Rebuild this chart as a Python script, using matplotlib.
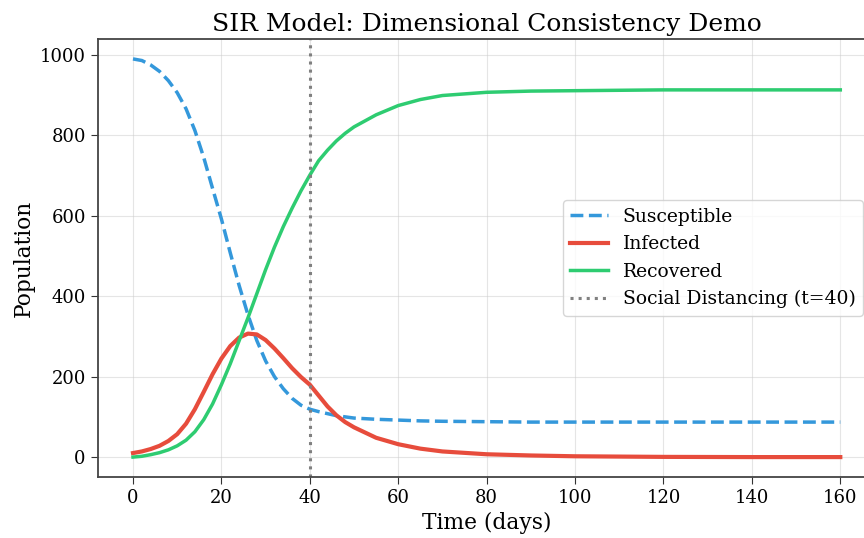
import matplotlib
matplotlib.use('Agg')
from matplotlib import pyplot as plt

# 时间（天）
days = [0, 2, 4, 6, 8, 10, 12, 14, 16, 18, 20, 22, 24, 26, 28, 30, 32, 34, 36, 38, 40,
        42, 44, 46, 48, 50, 55, 60, 65, 70, 80, 90, 100, 120, 140, 160]

# 易感者
susceptible = [990, 986, 975, 959, 936, 906, 866, 812, 745, 668, 592, 508, 427, 354, 290, 239, 200, 170, 146, 129, 119,
               113, 108, 103, 100, 97, 94, 92, 90, 89, 88, 87, 87, 87, 87, 87]

# 感染者
infected = [10, 14, 20, 28, 40, 57, 83, 119, 162, 206, 245, 276, 297, 307, 305, 291, 270, 246, 221, 199, 180,
            153, 126, 104, 87, 74, 48, 32, 21, 14, 7, 4, 2, 0.5, 0, 0]

# 康复者
recovered = [0, 2, 6, 11, 18, 28, 42, 63, 93, 132, 180, 232, 289, 346, 406, 466, 522, 573, 619, 662, 701,
             737, 763, 786, 805, 821, 851, 874, 889, 899, 907, 910, 911, 913, 913, 913]

t_intervention = 40

plt.rcParams['font.family'] = ['DejaVu Serif']

fig = plt.figure(figsize=(8.64, 5.38), dpi=100)
ax = fig.add_axes([0.113, 0.1134, 0.9005, 0.8141])

ax.plot(days, susceptible, color='#3498db', linestyle='--', linewidth=2.5, label='Susceptible')
ax.plot(days, infected, color='#e74c3c', linewidth=3, label='Infected')
ax.plot(days, recovered, color='#2ecc71', linewidth=2.5, label='Recovered')
ax.axvline(t_intervention, color='gray', linestyle=':', linewidth=2.2,
           label='Social Distancing (t=%d)' % t_intervention)

ax.set_title('SIR Model: Dimensional Consistency Demo', fontsize=18)
ax.set_xlabel('Time (days)', fontsize=15.7)
ax.set_ylabel('Population', fontsize=15.7)
ax.tick_params(labelsize=13, length=5, color='#333333')
ax.grid(True, color='#cccccc', alpha=0.5)

for s in ax.spines.values():
    s.set_color('#444444')
    s.set_linewidth(1.3)

ax.legend(loc='center right', bbox_to_anchor=(0.984, 0.5), borderaxespad=0, fontsize=13.5)

fig.savefig('out.png', dpi=100)
